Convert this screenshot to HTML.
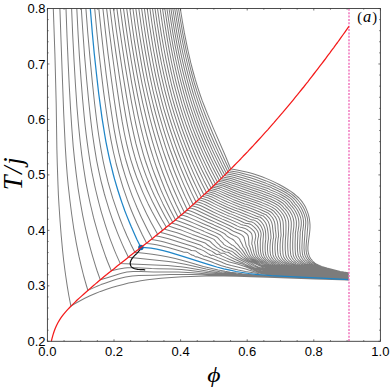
<!DOCTYPE html>
<html><head><meta charset="utf-8"><style>
html,body{margin:0;padding:0;background:#fff;}
#c{position:relative;width:390px;height:387px;overflow:hidden;background:#fff;font-family:"Liberation Sans",sans-serif;color:#000;}
.xl{position:absolute;top:344px;width:40px;text-align:center;font-size:13px;line-height:15px;}
.yl{position:absolute;left:0;width:45.6px;text-align:right;font-size:13px;line-height:16px;}
.ser{font-family:"Liberation Serif",serif;position:absolute;white-space:nowrap;}
</style></head><body><div id="c">
<svg width="390" height="387" viewBox="0 0 390 387" style="position:absolute;left:0;top:0">
<rect width="390" height="387" fill="#fff"/>
<path d="M53.3 8.5L54.9 53.9L55.7 84.2L56.2 104.3L56.9 149.7L57.3 164.8L58.0 185.0L58.4 195.1L59.0 205.2L60.0 220.3L61.2 235.5L62.6 250.6L63.7 260.7L65.0 270.7L65.7 275.8L67.2 285.9L68.9 296.0L70.9 306.2L71.1 306.0L74.7 303.8L79.7 301.0L84.8 298.3L90.0 295.8L95.3 293.5L100.5 291.4L105.9 289.5L111.8 287.5L117.2 286.0L123.2 284.4L128.6 283.1L134.7 281.9L140.8 280.8L147.5 279.8L154.2 279.0L161.0 278.3L167.8 277.7L175.1 277.2L182.5 276.8L190.4 276.4L198.4 276.2L206.3 276.1L214.9 276.0L224.0 276.1L237.1 276.3L251.9 276.7L267.8 277.2L314.9 279.1L332.4 279.6L348.1 279.9L348.8 280.0 M59.9 8.5L60.9 37.1L62.1 70.5L63.7 113.6L64.6 132.6L65.3 146.9L66.2 161.4L67.3 175.7L68.2 185.2L69.8 199.5L71.6 213.8L73.7 228.3L75.4 237.8L76.2 242.6L78.1 252.1L79.1 256.9L81.3 266.4L83.7 276.0L85.0 280.7L86.4 285.5L87.9 290.4L94.5 287.4L97.7 286.0L101.0 284.6L104.3 283.4L109.2 281.7L114.2 280.0L117.4 279.0L122.4 277.7L125.6 277.0L127.3 276.7L132.2 276.0L135.5 275.8L138.8 275.6L153.5 275.2L169.9 274.6L176.5 274.5L183.1 274.4L191.3 274.5L202.8 274.8L238.9 276.2L284.8 277.6L348.8 279.9 M66.0 8.5L67.0 36.0L68.2 63.6L69.3 86.6L70.6 109.6L71.8 128.0L73.2 146.4L74.6 160.1L76.2 173.9L78.0 187.8L80.2 201.5L82.7 215.3L84.6 224.5L85.6 229.1L87.8 238.4L88.9 242.9L91.4 252.1L92.7 256.7L95.5 265.9L97.0 270.5L100.3 279.8L108.1 277.4L117.5 274.4L120.6 273.4L123.7 272.7L126.9 272.1L130.0 271.7L133.1 271.5L137.8 271.4L140.9 271.5L153.4 271.9L173.8 272.0L178.4 272.1L183.1 272.2L192.5 272.8L211.3 274.2L219.1 274.7L226.9 275.2L236.3 275.7L248.8 276.2L286.3 277.4L348.8 279.9 M71.6 8.5L72.7 35.1L74.1 61.7L75.4 84.0L76.9 106.2L78.4 124.0L79.3 132.9L80.2 141.8L81.8 155.2L83.7 168.5L85.8 181.8L88.4 195.1L90.3 204.0L91.4 208.5L93.5 217.4L94.7 221.8L97.2 230.7L98.5 235.1L101.3 244.0L102.8 248.4L105.9 257.3L107.6 261.8L111.3 270.8L118.8 269.1L121.8 268.6L124.7 268.1L127.7 267.8L130.7 267.7L133.7 267.7L136.7 267.7L151.6 268.6L157.6 268.8L172.5 269.1L177.0 269.3L181.5 269.6L186.0 270.0L190.5 270.5L208.4 272.7L215.9 273.5L226.3 274.5L238.3 275.3L251.7 275.9L295.0 277.5L348.8 279.8 M76.8 8.5L78.1 34.3L79.4 56.0L80.9 77.6L82.6 99.2L84.2 116.5L85.1 125.2L86.1 133.9L87.2 142.4L88.4 151.0L90.4 164.0L92.0 172.7L92.9 177.0L94.7 185.7L95.7 190.0L97.8 198.6L98.9 203.0L101.2 211.6L102.5 215.9L105.2 224.6L106.6 228.9L109.6 237.6L111.2 241.9L114.6 250.6L116.4 254.9L120.3 263.6L160.5 265.2L167.7 265.6L174.9 266.2L180.7 266.8L186.4 267.6L192.2 268.5L208.0 271.2L216.6 272.4L222.3 273.2L228.1 273.8L233.8 274.3L239.6 274.8L246.8 275.2L255.4 275.7L299.9 277.5L348.8 279.8 M81.3 8.5L83.0 33.8L84.5 54.9L86.7 80.2L88.7 101.2L90.5 118.1L91.5 126.5L92.6 135.0L94.5 147.6L96.6 160.3L98.3 168.7L99.2 172.9L101.1 181.3L102.2 185.5L104.4 194.0L105.6 198.2L108.2 206.6L109.5 210.8L112.4 219.3L113.9 223.5L117.1 231.9L118.8 236.1L122.4 244.6L124.3 248.8L128.4 257.3L161.7 260.7L168.6 261.5L174.1 262.3L179.7 263.2L185.2 264.3L190.8 265.5L206.0 269.1L214.3 270.7L219.9 271.7L225.4 272.5L231.0 273.3L236.5 273.9L246.2 274.7L257.3 275.4L308.6 277.7L348.8 279.7 M85.9 8.5L87.8 33.2L90.0 58.0L92.4 82.8L94.6 103.5L96.6 120.0L97.7 128.2L98.9 136.5L100.9 148.9L102.4 157.2L103.2 161.3L105.0 169.6L106.0 173.7L108.0 181.9L109.2 186.1L111.6 194.3L112.8 198.4L115.6 206.7L118.5 214.9L120.1 219.2L123.3 227.4L125.1 231.5L126.9 235.7L130.7 243.9L134.8 252.2L144.2 253.3L152.3 254.3L160.4 255.6L168.4 257.1L175.2 258.6L181.9 260.3L187.3 261.8L203.4 266.4L208.8 267.8L212.9 268.8L218.2 270.0L225.0 271.3L230.4 272.2L237.1 273.1L242.5 273.8L247.9 274.3L253.2 274.7L260.0 275.2L273.4 275.9L313.8 277.8L348.8 279.7 M94.7 8.5L96.9 32.2L98.9 52.2L101.2 72.1L103.6 91.9L105.8 107.8L108.2 123.8L109.5 131.6L110.9 139.6L113.3 151.5L115.2 159.5L116.1 163.5L117.2 167.5L119.4 175.3L121.8 183.3L123.0 187.3L124.4 191.3L127.1 199.2L130.1 207.2L131.7 211.2L133.4 215.2L136.8 223.0L140.5 231.0L142.4 235.0L146.5 243.1 M98.8 8.5L100.8 27.9L103.4 51.3L106.2 74.7L109.3 98.1L111.6 113.8L112.8 121.5L114.1 129.3L116.3 141.1L118.0 148.8L118.8 152.7L120.8 160.5L121.8 164.5L124.1 172.2L125.3 176.1L127.9 183.9L129.3 187.9L132.1 195.6L135.3 203.4L136.9 207.3L140.4 215.2L142.2 219.1L146.0 226.8L148.0 230.7L152.2 238.6 M102.9 8.5L105.4 31.4L108.1 54.3L111.1 77.3L114.3 100.2L116.6 115.6L118.5 127.1L120.7 138.5L122.4 146.2L123.3 150.1L125.2 157.7L126.3 161.5L128.6 169.1L129.8 173.0L132.5 180.7L133.9 184.4L136.9 192.1L140.1 199.7L141.8 203.6L145.4 211.3L147.2 215.1L151.2 222.7L153.3 226.6L157.6 234.3 M106.6 8.5L109.3 31.0L112.2 53.5L115.8 79.8L119.7 106.1L122.1 121.2L124.2 132.5L125.8 140.0L126.6 143.7L128.5 151.3L130.5 158.8L131.7 162.6L134.1 170.0L136.8 177.6L138.3 181.3L141.4 188.9L143.0 192.6L146.4 200.1L148.2 203.9L152.0 211.4L156.1 218.9L158.2 222.7L162.6 230.3 M110.0 8.5L112.8 30.7L115.9 52.9L119.2 75.2L123.2 101.1L125.7 115.9L127.8 127.1L130.1 138.2L131.8 145.6L132.8 149.3L134.8 156.7L135.9 160.4L138.3 167.8L141.0 175.2L142.4 178.9L145.5 186.3L147.1 190.0L150.5 197.4L152.3 201.2L156.0 208.5L159.9 215.9L162.0 219.7L166.4 227.2 M113.5 8.5L116.4 30.5L119.6 52.4L122.9 74.4L126.5 96.4L129.1 111.0L130.4 118.3L131.9 125.6L134.3 136.6L136.0 143.9L137.0 147.6L139.0 154.9L140.1 158.6L142.5 165.9L145.1 173.2L146.5 176.9L149.5 184.2L151.0 187.9L154.3 195.2L156.1 198.9L159.7 206.2L163.5 213.5L165.5 217.2L169.7 224.6 M116.9 8.5L119.3 26.6L122.5 48.2L125.3 66.4L128.4 84.5L131.6 102.6L134.4 117.0L135.9 124.3L137.5 131.5L140.1 142.4L142.1 149.6L143.1 153.3L145.3 160.5L146.5 164.0L149.1 171.4L151.8 178.6L153.3 182.2L154.8 185.8L157.9 193.0L159.6 196.6L163.0 203.9L164.8 207.5L168.6 214.7L172.6 222.1 M120.3 8.5L123.2 29.9L125.9 47.8L128.8 65.7L131.8 83.6L135.2 101.6L138.1 115.9L139.7 123.0L141.4 130.2L144.1 141.0L147.1 151.6L149.3 158.8L150.4 162.4L152.9 169.6L155.6 176.7L157.0 180.3L159.9 187.4L161.4 191.0L163.0 194.6L166.3 201.7L169.8 209.0L171.6 212.5L175.4 219.8 M123.5 8.5L125.9 26.1L128.5 43.9L131.4 61.5L134.5 79.3L137.9 96.9L140.9 111.1L142.5 118.2L144.2 125.3L146.9 135.9L149.8 146.5L153.1 157.2L156.7 167.8L160.6 178.3L164.9 189.0L169.5 199.6L174.6 210.3L178.2 217.5 M126.7 8.5L129.1 25.9L131.7 43.4L134.6 60.9L137.1 74.8L139.8 88.9L142.7 102.9L146.0 116.9L147.7 123.9L149.5 130.9L152.4 141.3L155.6 151.8L159.0 162.4L162.8 172.8L166.9 183.3L171.3 193.8L176.0 204.3L179.4 211.3L181.2 214.9 M129.8 8.5L132.2 25.7L134.2 39.6L137.0 56.8L139.5 70.6L142.2 84.4L145.2 98.2L148.4 112.1L150.1 119.0L151.9 125.9L153.8 132.7L155.8 139.7L159.0 150.1L162.5 160.4L166.2 170.8L170.2 181.1L174.6 191.5L179.2 201.9L184.3 212.3 M132.9 8.5L135.2 25.5L137.8 42.6L140.1 56.2L142.5 69.8L145.2 83.5L148.2 97.0L151.5 110.7L154.2 121.0L156.1 127.8L158.0 134.5L161.2 144.8L163.4 151.6L165.8 158.5L169.5 168.7L173.5 178.9L177.7 189.1L182.3 199.3L187.3 209.7 M135.8 8.5L138.1 25.3L140.2 38.8L142.4 52.2L144.8 65.6L147.4 79.2L150.4 92.6L153.6 106.0L156.3 116.1L158.2 122.9L160.1 129.6L163.3 139.7L165.4 146.4L167.7 153.2L171.4 163.3L173.9 170.0L176.6 176.7L180.8 186.8L185.3 196.9L190.2 207.1 M138.8 8.5L141.1 25.0L143.1 38.3L145.3 51.7L147.7 65.0L150.3 78.2L153.2 91.5L154.8 98.1L156.5 104.8L159.2 114.8L161.1 121.4L163.1 128.1L166.2 138.1L168.4 144.6L170.7 151.3L174.4 161.3L176.9 167.9L179.6 174.6L183.8 184.6L188.3 194.5L193.1 204.5 M141.6 8.5L143.9 24.8L145.9 38.0L148.0 51.1L150.4 64.2L153.1 77.3L156.0 90.4L158.5 100.2L160.2 106.8L162.0 113.3L164.9 123.2L166.9 129.8L169.1 136.3L171.3 142.8L173.6 149.5L177.3 159.3L179.8 165.8L182.5 172.3L186.7 182.2L191.2 192.1L196.0 202.0 M144.4 8.5L146.6 24.6L148.6 37.6L150.8 50.5L153.2 63.5L155.8 76.4L158.0 86.2L159.6 92.6L161.2 99.1L163.8 108.8L166.7 118.5L168.7 125.0L170.8 131.5L173.0 138.0L175.2 144.4L178.8 154.2L181.3 160.6L184.0 167.1L188.0 176.8L190.9 183.3L193.9 189.8L198.7 199.6 M147.2 8.5L149.4 24.5L151.4 37.2L153.5 50.0L155.9 62.7L158.5 75.6L160.7 85.2L162.2 91.6L163.9 97.9L166.5 107.6L169.3 117.1L171.3 123.5L173.4 129.9L176.8 139.5L179.1 145.8L181.5 152.3L184.0 158.7L186.6 165.0L190.7 174.7L193.5 181.0L196.5 187.4L201.3 197.2 M149.9 8.5L152.1 24.3L154.1 36.9L156.2 49.4L158.5 62.1L161.1 74.7L163.3 84.2L164.8 90.5L166.5 96.8L169.1 106.3L171.9 115.8L173.9 122.1L176.0 128.4L178.2 134.7L180.5 141.1L184.1 150.5L186.6 156.8L189.2 163.1L193.3 172.6L196.1 178.9L199.1 185.2L203.9 194.8 M152.5 8.5L154.7 24.0L157.2 39.7L159.3 52.1L161.7 64.5L164.4 77.1L166.6 86.4L168.2 92.6L169.8 98.8L172.5 108.2L174.4 114.4L176.4 120.7L179.5 130.0L182.9 139.4L185.3 145.6L187.7 151.8L190.3 158.0L193.0 164.4L197.2 173.7L201.6 183.0L206.4 192.5 M155.0 8.5L157.2 23.8L159.7 39.2L161.8 51.5L164.2 63.9L166.9 76.2L169.1 85.5L170.7 91.6L172.3 97.8L174.9 107.0L176.8 113.1L178.8 119.3L181.9 128.5L184.2 134.7L186.4 140.8L190.1 150.2L192.7 156.3L195.4 162.5L199.6 171.7L204.0 180.9L208.8 190.3 M157.5 8.5L159.7 23.7L161.6 35.8L163.8 48.0L166.1 60.2L168.7 72.3L171.5 84.5L173.1 90.6L174.7 96.7L177.3 105.8L179.2 111.9L181.1 118.0L184.2 127.1L186.4 133.2L188.7 139.3L192.4 148.4L194.9 154.5L197.6 160.6L201.8 169.7L206.3 178.8L211.1 188.1 M160.1 8.5L162.3 23.5L164.2 35.6L166.3 47.5L168.6 59.6L171.1 71.6L173.9 83.6L175.5 89.7L177.1 95.7L179.6 104.7L181.5 110.8L183.4 116.8L186.5 125.8L188.7 131.7L191.0 137.8L194.6 146.8L198.5 155.8L202.7 164.9L205.5 170.9L208.6 176.9L213.3 186.0 M162.5 8.5L164.7 23.4L167.1 38.2L169.2 50.1L171.5 62.0L174.1 73.8L176.2 82.8L177.7 88.7L179.4 94.7L181.9 103.7L183.7 109.6L185.7 115.6L188.7 124.4L190.9 130.4L193.2 136.3L196.8 145.3L200.6 154.2L204.8 163.1L207.6 169.0L210.6 175.0L215.4 184.0 M164.8 8.5L167.0 23.1L169.3 37.9L171.5 49.7L173.8 61.4L176.4 73.2L178.5 82.0L181.6 93.8L184.1 102.6L186.0 108.5L187.9 114.3L190.9 123.2L193.1 129.1L195.4 135.0L199.0 143.8L202.8 152.6L206.9 161.5L211.2 170.2L214.2 176.1L217.4 182.1 M166.9 8.5L169.1 23.0L171.0 34.7L173.1 46.3L175.4 58.0L177.9 69.5L180.7 81.2L183.8 92.8L186.3 101.6L188.1 107.5L190.0 113.2L193.1 122.0L195.2 127.8L197.5 133.6L201.0 142.3L204.8 151.0L208.9 159.8L213.2 168.6L216.2 174.3L219.3 180.3 M169.0 8.5L171.2 22.8L173.1 34.3L175.2 45.9L177.5 57.4L180.0 69.0L182.8 80.5L185.9 92.0L188.4 100.6L190.2 106.3L192.1 112.1L195.1 120.8L197.3 126.5L199.5 132.3L203.1 141.0L206.8 149.6L210.8 158.3L215.1 166.9L218.1 172.7L221.2 178.5 M170.9 8.5L173.1 22.7L175.1 34.1L177.2 45.6L179.5 56.9L182.1 68.3L184.9 79.7L188.0 91.1L190.5 99.7L192.3 105.3L194.2 111.1L197.2 119.7L199.3 125.3L201.5 131.0L205.0 139.5L207.5 145.3L210.1 150.9L214.1 159.5L218.4 168.0L223.0 176.7 M172.8 8.5L175.1 22.6L177.0 33.8L179.2 45.1L181.5 56.4L184.1 67.6L186.9 78.9L190.0 90.3L192.5 98.7L194.3 104.3L196.2 110.0L199.2 118.4L201.3 124.1L203.5 129.8L207.0 138.2L209.5 143.8L212.0 149.5L216.0 157.9L220.2 166.4L224.7 175.0 M174.7 8.5L177.0 22.4L179.0 33.6L181.1 44.8L183.5 56.0L186.1 67.1L188.9 78.3L192.0 89.5L194.5 97.8L197.3 106.2L199.2 111.8L201.3 117.4L203.4 123.0L205.6 128.6L209.0 137.0L212.7 145.4L215.2 150.9L217.9 156.5L222.0 164.9L226.4 173.4 M176.6 8.5L178.9 22.3L180.9 33.3L183.1 44.4L185.4 55.5L188.0 66.5L190.1 74.8L193.2 85.9L195.7 94.3L198.4 102.6L200.3 108.1L202.3 113.7L205.4 121.9L209.9 133.0L213.5 141.3L218.5 152.4L223.8 163.5L227.9 171.8 M178.5 8.5L180.8 22.1L182.7 33.1L184.9 44.1L186.6 52.3L189.2 63.3L191.2 71.5L194.2 82.5L196.7 90.7L199.4 98.9L202.3 107.1L205.4 115.3L209.8 126.3L213.2 134.5L218.0 145.5L224.3 159.3L229.4 170.3 M180.3 8.5L182.5 22.0L184.4 32.9L186.6 43.8L188.3 52.0L190.8 62.9L192.9 71.0L195.2 79.2L197.7 87.3L200.4 95.5L202.3 100.9L204.4 106.3L207.6 114.4L213.3 128.1L225.1 155.3L230.8 169.0 M146.4 243.2L146.7 243.4L149.6 243.7L153.3 244.2L156.3 244.8L160.0 245.5L168.2 247.5L174.2 249.2L182.7 251.7L183.2 252.0L184.1 252.2L186.4 252.3L187.8 252.5L188.0 252.7L189.8 253.9L191.4 254.7L192.3 255.2L193.2 255.3L194.1 255.8L195.4 256.7L196.0 256.9L196.8 256.8L201.3 258.4L211.1 261.7L211.8 262.0L215.5 263.6L220.7 265.5L226.1 267.1L231.7 268.5L238.3 270.0L245.4 271.4L259.2 273.7L263.9 274.2L274.2 275.2L288.7 276.1L323.9 277.8L348.8 279.4 M152.4 238.5L151.6 239.6L154.7 240.1L158.5 240.8L161.0 241.3L164.1 242.1L174.4 245.0L187.9 249.0L190.4 249.9L190.9 250.4L192.0 250.6L194.4 250.8L195.9 251.1L198.3 252.8L200.8 254.4L201.7 254.6L202.6 255.1L203.9 256.1L204.5 256.2L205.4 256.0L206.6 256.5L209.9 257.8L221.4 262.0L223.5 263.0L226.5 264.2L231.3 265.5L242.7 268.3L245.6 269.1L251.8 271.0L254.8 271.8L257.2 272.3L261.2 273.0L269.8 274.1L273.8 274.5L278.9 274.9L293.1 275.9L323.0 277.5L348.8 279.2 M158.0 234.0L156.3 236.0L159.4 236.6L163.5 237.5L168.5 238.8L180.3 242.5L181.8 243.0L191.5 246.1L194.4 247.0L196.7 248.0L197.4 248.6L201.0 249.6L203.5 250.6L205.1 251.6L208.1 253.6L209.6 254.5L210.9 255.3L211.5 255.4L212.4 255.1L212.8 255.2L213.8 255.6L215.4 256.4L218.1 257.6L229.3 262.0L237.2 264.0L241.9 265.4L245.6 266.8L250.1 268.9L251.9 269.7L254.8 270.6L257.6 271.4L261.5 272.2L270.9 273.5L274.8 274.0L279.8 274.5L286.7 275.0L294.7 275.5L322.5 277.1L348.8 279.0 M162.1 230.7L160.6 232.5L163.9 233.3L168.2 234.4L173.4 235.9L183.7 239.5L185.6 240.1L186.3 240.4L188.0 241.0L200.1 245.0L202.1 246.1L202.9 246.9L205.5 248.1L208.0 249.6L209.4 250.1L212.1 251.4L214.1 252.7L214.7 253.3L215.9 254.0L216.6 254.4L217.3 254.4L218.3 254.2L218.8 254.3L219.9 254.7L222.3 256.1L226.1 257.9L229.7 259.5L235.6 262.0L239.0 262.9L242.6 264.1L244.7 265.1L249.2 267.4L251.1 268.3L254.6 269.6L257.6 270.5L261.1 271.3L271.9 273.1L275.9 273.6L280.8 274.1L288.1 274.7L295.9 275.2L322.4 276.8L348.8 278.9 M165.8 227.7L164.8 229.3L168.2 230.2L172.6 231.4L177.1 232.8L180.6 234.1L187.7 236.7L190.6 237.7L191.2 238.0L192.1 238.4L205.1 243.0L206.0 243.6L207.6 245.0L212.6 248.7L214.0 249.2L217.5 250.9L218.8 251.7L219.4 252.4L219.9 252.7L221.3 253.2L222.1 253.3L223.1 253.2L223.9 253.3L225.0 253.9L226.6 254.9L229.2 256.4L233.8 258.8L240.7 262.0L242.7 262.8L244.2 263.6L249.4 266.5L251.3 267.4L253.1 268.2L255.5 269.0L258.0 269.6L261.4 270.4L270.1 272.1L274.4 272.8L279.7 273.4L287.0 274.1L295.7 274.8L323.2 276.6L342.0 278.2L348.8 278.7 M169.1 225.1L168.7 226.1L173.1 227.4L177.6 228.9L181.3 230.1L192.2 234.4L195.2 235.4L195.8 235.8L203.2 238.6L209.5 241.0L210.3 241.6L212.5 243.9L215.6 246.6L217.3 247.9L218.1 248.4L220.6 249.6L222.3 250.3L223.1 251.0L224.5 251.6L225.4 251.9L228.2 252.3L229.4 253.0L231.7 254.7L234.2 256.4L237.7 258.5L244.7 262.0L246.3 262.9L250.6 265.7L252.3 266.7L254.5 267.7L256.4 268.3L258.2 268.8L263.0 269.8L268.2 271.1L270.6 271.6L275.3 272.3L281.5 273.1L288.2 273.8L296.8 274.5L324.5 276.4L335.9 277.4L348.8 278.5 M172.1 222.6L172.4 223.2L176.9 224.5L181.6 226.2L185.3 227.5L195.5 231.7L199.5 233.2L200.0 233.6L207.4 236.5L213.5 239.1L214.3 239.7L216.3 242.0L217.6 243.4L219.9 245.4L220.0 246.0L221.4 247.0L223.1 247.9L225.1 248.7L228.0 250.0L230.7 251.1L231.8 251.3L233.1 252.2L235.3 254.0L237.6 255.9L239.2 257.1L240.9 258.2L242.6 259.2L247.8 262.0L251.2 264.3L253.7 265.9L255.8 266.9L257.5 267.6L259.4 268.1L264.0 269.2L269.1 270.5L271.4 271.1L275.6 271.8L281.7 272.6L287.4 273.2L294.5 273.9L303.9 274.6L321.9 275.9L338.4 277.4L348.8 278.3 M175.0 220.2L175.9 220.3L179.6 221.5L188.1 224.7L199.4 229.4L203.4 231.0L203.9 231.4L211.3 234.5L214.8 236.0L217.2 237.2L217.9 237.8L219.8 240.0L221.1 241.4L223.2 243.3L223.2 243.8L224.4 244.9L226.0 245.9L228.1 246.9L229.2 247.2L232.2 248.8L233.9 249.9L235.0 250.3L236.4 251.3L240.4 255.3L241.8 256.6L243.4 257.9L245.9 259.5L250.3 262.0L252.6 263.7L254.6 265.1L256.6 266.2L258.4 266.9L260.2 267.4L264.8 268.5L269.8 270.0L272.1 270.6L276.3 271.3L282.3 272.2L287.9 272.8L295.0 273.5L305.3 274.3L321.2 275.5L339.0 277.3L348.8 278.1 M177.8 217.9L179.2 217.6L180.2 217.9L184.0 219.2L189.7 221.5L193.6 223.1L203.1 227.3L207.1 228.9L207.6 229.3L215.0 232.4L218.3 234.0L220.7 235.3L222.0 236.5L223.3 238.0L224.6 239.3L225.3 239.8L226.7 240.9L229.4 243.2L231.0 244.4L231.8 245.0L232.7 245.2L234.6 246.6L235.5 247.3L237.0 248.8L237.9 249.3L238.6 249.9L239.3 250.5L243.4 255.5L244.8 256.9L246.3 258.2L248.9 259.9L253.1 262.5L255.3 263.7L259.1 265.6L261.5 266.6L263.6 267.4L268.4 268.8L271.0 269.6L273.7 270.2L278.2 271.1L284.7 272.0L291.6 272.7L299.5 273.5L323.7 275.4L334.4 276.6L344.1 277.6L348.8 277.9 M180.6 215.5L182.3 215.1L185.3 216.0L188.2 217.1L194.0 219.6L205.5 224.7L210.5 226.8L211.0 227.2L215.8 229.3L219.3 230.9L223.3 233.0L224.0 233.4L225.5 234.5L226.2 235.3L226.8 235.9L228.3 237.0L230.6 238.4L232.0 239.0L232.9 239.5L233.7 240.2L234.4 240.8L235.0 241.5L236.0 243.0L236.5 243.2L237.2 244.0L238.0 244.9L238.7 245.7L240.0 247.6L241.4 248.9L242.0 249.6L245.6 255.1L246.8 256.5L248.2 257.9L250.7 259.7L254.1 262.0L257.3 263.6L260.2 265.0L263.6 266.4L266.6 267.6L270.6 268.9L272.4 269.3L274.6 269.9L280.1 270.8L287.0 271.8L293.4 272.5L300.4 273.2L321.6 274.9L338.6 276.8L348.8 277.8 M183.4 213.1L185.3 212.6L189.3 214.0L195.1 216.4L207.7 222.2L213.7 224.8L214.3 225.2L219.0 227.3L222.6 228.9L225.1 230.2L226.7 231.1L229.0 232.6L229.8 233.3L231.4 234.3L235.0 236.1L236.4 236.6L237.4 237.1L238.3 237.8L239.0 238.5L239.6 239.3L240.0 240.1L240.3 241.0L241.0 242.3L242.1 244.3L243.0 246.5L243.4 247.2L244.2 248.0L244.7 248.8L247.2 253.8L248.2 255.4L248.7 256.2L249.4 256.9L250.1 257.6L251.7 259.0L255.9 262.0L257.8 263.7L258.8 264.6L259.5 265.0L260.7 265.6L262.8 266.2L268.7 267.5L273.7 268.9L276.0 269.5L279.7 270.2L286.2 271.2L292.8 272.0L300.4 272.8L310.4 273.7L323.7 274.8L334.1 276.1L343.6 277.1L348.8 277.6 M186.1 210.7L188.0 210.3L191.1 211.3L194.1 212.5L210.7 220.2L216.7 222.9L217.4 223.3L224.9 226.6L229.2 228.8L232.5 230.7L233.4 231.3L239.6 233.8L241.6 234.9L242.5 235.6L243.2 236.3L243.8 237.1L244.2 238.0L244.9 240.8L245.5 242.9L246.2 246.2L246.9 247.1L247.3 248.0L249.4 253.3L250.2 255.0L250.7 255.8L251.3 256.6L252.0 257.4L253.5 258.8L254.3 259.5L257.7 262.0L260.5 264.3L261.7 265.1L262.9 265.6L264.2 266.1L265.5 266.4L270.7 267.6L277.5 269.3L281.8 270.1L287.4 270.9L293.6 271.7L300.2 272.4L323.1 274.5L326.9 274.9L336.9 276.2L348.8 277.4 M188.8 208.4L190.7 208.1L193.8 209.1L196.9 210.3L212.6 217.8L228.9 225.2L232.5 227.0L234.1 227.9L236.0 228.8L237.1 229.3L239.3 229.9L241.6 230.7L243.8 231.6L244.4 232.2L245.4 232.8L246.3 233.5L247.1 234.2L247.7 235.1L248.2 236.1L248.4 237.1L248.7 239.4L248.9 242.9L248.9 244.2L249.0 245.2L249.6 246.2L249.9 247.2L251.6 252.8L252.2 254.6L252.7 255.4L253.2 256.3L253.9 257.1L255.3 258.6L256.1 259.4L259.7 262.1L262.5 264.4L263.3 264.9L264.5 265.5L265.7 265.9L267.0 266.3L272.6 267.5L279.5 269.1L283.2 269.8L288.8 270.6L294.9 271.4L301.5 272.1L310.5 273.0L321.4 273.9L338.4 276.2L343.6 276.7L348.8 277.2 M191.3 206.1L193.1 205.9L196.4 207.0L198.5 207.8L200.5 208.7L214.3 215.5L222.2 219.1L226.2 220.8L231.0 222.9L234.8 224.7L237.5 226.1L239.4 226.9L240.7 227.3L241.9 227.5L244.2 228.2L245.3 228.6L247.4 229.7L248.0 230.3L249.8 231.6L250.6 232.4L251.3 233.3L251.8 234.3L252.1 235.5L252.3 237.0L252.4 238.2L251.8 243.1L251.8 244.2L252.3 245.3L252.5 246.4L253.8 252.2L254.3 254.1L254.7 255.1L255.2 256.0L255.8 256.9L256.4 257.7L258.0 259.2L259.6 260.7L261.4 262.0L263.6 263.9L264.7 264.6L265.8 265.3L267.0 265.7L268.8 266.2L274.3 267.3L280.6 268.8L284.3 269.5L289.9 270.3L295.9 271.1L302.9 271.9L311.8 272.8L322.6 273.7L325.0 274.0L330.1 274.9L333.8 275.4L343.2 276.5L348.8 277.0 M193.8 203.9L195.5 203.9L198.8 205.0L200.9 205.8L203.0 206.7L212.8 211.7L217.9 214.1L224.8 217.2L226.0 217.7L235.0 221.6L237.9 222.9L240.8 224.4L242.9 225.1L245.5 225.6L247.7 226.3L248.7 226.8L249.6 227.4L251.3 228.6L252.9 230.1L253.7 230.9L254.4 231.8L255.0 232.9L255.4 234.1L255.7 235.8L255.7 237.0L255.2 239.4L255.0 240.7L254.7 242.0L254.7 243.3L255.0 244.5L256.0 251.7L256.4 253.7L256.8 254.7L257.2 255.7L257.7 256.6L258.3 257.5L259.8 259.1L261.5 260.6L265.2 263.7L266.4 264.5L267.5 265.1L269.6 265.9L271.8 266.4L276.4 267.3L283.7 268.9L290.6 270.0L296.6 270.8L302.7 271.5L324.2 273.6L326.9 274.0L332.0 274.9L335.3 275.3L340.4 276.0L348.8 276.8 M196.1 201.9L197.7 202.0L198.8 202.3L201.0 203.0L203.2 203.9L205.3 204.8L214.2 209.4L220.3 212.3L227.3 215.4L228.7 215.9L237.9 219.8L241.0 221.2L244.1 222.7L246.3 223.4L247.6 223.5L248.9 223.8L251.0 224.6L251.9 225.2L254.5 227.3L255.9 228.8L256.6 229.7L257.3 230.7L257.9 231.8L258.3 233.0L258.6 234.8L258.6 236.0L258.0 238.4L257.6 241.0L257.5 242.4L257.6 243.6L258.0 249.1L258.2 251.3L258.6 253.3L258.9 254.4L259.2 255.4L259.7 256.3L260.3 257.3L261.7 259.0L262.5 259.8L267.0 263.5L268.1 264.3L269.3 265.0L270.1 265.3L271.4 265.8L273.6 266.3L278.3 267.2L285.6 268.7L291.1 269.6L296.7 270.4L302.7 271.1L321.4 273.0L325.6 273.6L337.6 275.4L343.2 276.1L348.8 276.7 M198.4 199.9L199.8 200.1L202.1 200.8L205.4 202.0L207.5 203.0L213.5 206.1L218.6 208.6L229.7 213.7L231.3 214.1L238.6 217.2L244.1 219.5L247.3 221.0L249.6 221.7L250.9 221.7L252.1 222.1L253.1 222.6L254.1 223.1L255.0 223.8L257.4 226.1L258.7 227.9L259.9 229.8L260.4 231.0L260.8 232.2L261.1 233.8L261.1 235.0L260.4 240.0L260.3 241.5L260.3 247.5L260.4 249.7L260.6 251.9L261.0 254.0L261.3 255.1L261.7 256.1L262.3 257.1L263.7 258.9L264.5 259.7L266.3 261.3L268.9 263.4L270.0 264.2L271.2 264.9L272.0 265.2L273.3 265.7L276.0 266.4L287.1 268.5L292.2 269.4L298.2 270.2L304.7 271.0L312.6 271.8L322.4 272.8L324.7 273.1L329.8 274.0L334.4 274.7L342.7 275.9L348.8 276.5 M200.4 198.0L204.1 199.0L207.5 200.2L209.7 201.2L214.7 203.9L218.8 205.9L226.1 209.3L232.2 212.0L233.8 212.4L238.1 214.1L245.9 217.3L250.5 219.4L252.8 220.0L254.0 220.1L255.2 220.6L256.1 221.1L257.1 221.8L257.9 222.5L258.7 223.3L260.3 225.1L260.9 226.1L261.9 228.1L262.4 229.2L262.8 230.3L263.1 231.5L263.4 233.0L263.5 234.2L262.8 243.4L262.7 246.9L262.7 249.2L262.8 251.4L263.0 252.6L263.5 254.8L263.9 255.8L264.4 256.9L265.0 257.9L265.7 258.8L266.5 259.6L268.3 261.2L270.4 262.9L271.9 264.0L273.1 264.7L273.9 265.1L275.2 265.6L277.9 266.3L288.6 268.3L293.2 269.1L298.8 269.9L305.2 270.7L323.8 272.6L326.1 273.0L331.7 274.1L334.9 274.6L343.7 275.8L348.8 276.3 M202.3 196.3L206.0 197.3L208.4 198.1L209.5 198.5L211.7 199.5L217.8 202.7L222.1 204.8L226.3 206.7L234.7 210.3L236.4 210.7L240.7 212.5L248.8 215.7L253.6 217.8L256.0 218.5L257.0 218.5L258.1 219.1L259.1 219.8L260.0 220.6L260.8 221.4L261.6 222.3L263.0 224.2L263.6 225.3L264.5 227.4L265.2 229.7L265.4 230.9L265.7 233.4L265.8 238.3L265.7 239.9L265.5 241.3L265.2 243.9L265.1 246.3L265.1 248.6L265.2 251.0L265.3 252.2L265.7 254.5L266.0 255.6L266.5 256.7L267.2 257.7L267.9 258.7L268.6 259.6L269.5 260.4L271.4 262.0L273.4 263.5L275.0 264.5L275.8 264.9L277.1 265.4L279.8 266.2L288.7 267.9L293.7 268.8L298.8 269.5L305.3 270.3L321.6 272.1L326.2 272.8L333.5 274.1L337.7 274.8L342.8 275.4L348.8 276.1 M204.1 194.6L207.9 195.6L210.2 196.4L211.4 196.8L213.6 197.9L219.9 201.1L224.2 203.1L228.6 205.1L237.2 208.7L238.9 209.1L245.7 211.7L251.7 214.1L256.6 216.2L259.0 217.0L260.0 217.0L262.0 218.5L262.9 219.4L263.7 220.3L264.5 221.3L265.8 223.3L266.3 224.5L266.7 225.6L267.3 227.9L267.9 231.4L268.2 233.8L268.4 237.5L268.4 239.1L268.1 240.6L267.6 244.5L267.5 246.9L267.5 249.4L267.7 251.8L267.8 253.0L268.0 254.2L268.3 255.4L268.7 256.5L269.4 257.6L270.1 258.5L270.8 259.5L271.7 260.4L273.6 262.0L275.3 263.2L276.9 264.3L277.7 264.7L279.0 265.3L280.4 265.7L282.2 266.2L285.0 266.8L294.3 268.4L299.4 269.2L306.3 270.1L313.3 270.9L322.1 271.8L324.4 272.2L329.9 273.3L334.5 274.0L342.8 275.3L348.8 275.9 M205.8 193.1L208.4 193.7L209.6 194.0L212.0 194.8L213.2 195.2L215.5 196.2L219.8 198.4L224.2 200.5L227.5 202.0L232.0 203.9L239.7 207.0L241.4 207.5L250.8 211.0L255.8 213.0L259.6 214.7L262.0 215.5L262.9 215.7L264.8 217.4L266.5 219.2L267.3 220.3L268.0 221.3L268.6 222.5L269.0 223.7L269.4 224.9L269.9 227.3L270.7 233.2L271.0 236.9L271.0 238.4L270.6 239.9L270.3 242.6L270.1 245.1L270.0 247.7L270.0 250.2L270.1 251.4L270.4 253.9L270.6 255.1L271.1 256.3L271.6 257.4L272.3 258.4L273.1 259.4L274.0 260.3L275.9 262.0L277.6 263.2L278.8 264.0L280.1 264.7L281.0 265.1L282.3 265.5L283.7 266.0L286.9 266.7L293.5 267.9L299.0 268.7L305.0 269.6L324.0 271.8L326.7 272.2L331.7 273.3L335.0 273.9L343.7 275.2L348.8 275.7 M207.4 191.6L208.8 191.8L211.3 192.4L213.8 193.2L215.0 193.6L217.3 194.7L225.1 198.4L232.0 201.4L242.3 205.4L243.9 205.9L245.1 206.3L251.1 208.5L256.1 210.5L258.6 211.5L262.4 213.2L264.8 214.2L265.7 214.4L267.6 216.3L269.3 218.2L270.1 219.3L270.8 220.4L271.3 221.6L271.8 222.8L272.1 224.1L272.4 225.4L273.0 231.3L273.4 233.8L273.6 236.2L273.5 237.8L273.2 239.3L272.8 242.0L272.6 244.6L272.5 247.2L272.6 251.1L272.8 253.6L273.0 254.9L273.4 256.1L274.0 257.3L274.7 258.3L275.4 259.3L276.3 260.3L278.3 262.0L279.8 263.1L281.0 263.9L282.3 264.6L283.1 264.9L284.4 265.4L285.8 265.9L289.0 266.6L293.7 267.5L299.7 268.5L304.8 269.2L321.4 271.1L325.0 271.8L333.7 273.4L337.8 274.1L343.3 274.9L348.8 275.6 M209.0 190.1L210.4 190.3L213.0 190.9L215.5 191.6L216.7 192.1L219.1 193.1L227.1 196.8L233.0 199.4L237.8 201.2L244.8 203.9L246.4 204.3L247.7 204.7L256.3 207.9L261.4 210.0L268.5 213.3L270.4 215.2L271.2 216.2L272.1 217.3L272.9 218.4L273.5 219.5L274.0 220.8L274.5 222.0L274.8 223.3L275.0 224.6L275.4 229.4L275.9 233.2L276.1 235.7L276.1 237.2L275.7 238.7L275.3 241.4L275.1 244.1L275.0 246.8L275.0 249.4L275.2 252.1L275.5 254.7L275.8 255.9L276.4 257.1L277.1 258.2L277.8 259.3L278.7 260.2L280.7 262.0L283.0 263.6L285.1 264.7L287.3 265.6L290.1 266.3L294.3 267.2L299.3 268.0L306.2 269.0L313.6 269.9L322.4 270.9L324.6 271.3L330.0 272.5L334.1 273.3L342.8 274.7L348.8 275.4 M210.5 188.7L211.9 188.8L214.6 189.4L217.1 190.1L218.3 190.6L220.8 191.6L229.1 195.3L235.2 197.8L240.1 199.7L247.4 202.3L248.9 202.8L253.9 204.5L260.3 207.0L264.1 208.6L266.6 209.8L269.1 211.0L271.2 212.2L273.1 214.2L273.9 215.3L274.8 216.4L275.6 217.5L276.2 218.7L276.7 219.9L277.2 221.2L277.5 222.6L277.7 223.9L277.9 225.2L278.0 228.8L278.4 232.7L278.6 235.2L278.5 236.7L278.2 238.1L277.9 240.9L277.6 243.6L277.5 246.3L277.5 249.1L277.7 251.8L278.0 254.4L278.3 255.7L278.8 257.0L279.5 258.1L280.3 259.2L281.1 260.2L282.1 261.1L283.1 262.0L285.4 263.5L287.5 264.7L289.7 265.6L292.5 266.3L296.2 267.1L300.0 267.7L306.4 268.7L323.6 270.8L326.3 271.3L331.8 272.6L335.4 273.3L340.5 274.1L348.8 275.2 M212.0 187.2L213.5 187.3L216.1 187.9L218.7 188.6L220.0 189.1L222.4 190.1L231.0 193.8L237.3 196.3L243.6 198.6L255.3 202.6L260.4 204.5L265.5 206.6L269.3 208.4L271.8 209.8L272.9 210.5L273.8 211.2L275.7 213.3L276.6 214.3L277.4 215.5L278.2 216.6L278.9 217.8L279.9 220.4L280.2 221.8L280.4 223.1L280.5 224.5L280.7 228.2L280.9 232.2L281.1 234.7L281.0 236.1L280.7 237.5L280.3 241.7L280.1 244.5L280.1 247.3L280.1 250.1L280.3 252.9L280.5 254.2L280.8 255.6L281.3 256.8L281.9 258.0L282.7 259.1L283.6 260.2L284.6 261.1L285.6 262.0L287.5 263.3L289.6 264.5L291.8 265.4L294.5 266.2L297.8 266.9L301.5 267.6L307.9 268.5L320.9 270.1L324.1 270.7L333.6 272.7L337.8 273.5L343.3 274.3L348.8 275.0 M213.6 185.8L214.9 185.9L217.6 186.4L220.3 187.2L221.6 187.6L233.0 192.3L239.4 194.7L245.9 197.1L256.5 200.7L261.7 202.6L266.9 204.7L269.4 205.9L271.9 207.1L273.1 207.8L274.3 208.6L275.5 209.4L276.4 210.3L278.3 212.4L279.2 213.5L280.1 214.6L280.8 215.8L281.5 217.0L282.5 219.7L282.9 221.0L283.1 222.4L283.3 225.1L283.5 234.3L283.4 235.6L283.0 238.4L282.8 241.2L282.7 244.1L282.6 246.9L282.8 251.2L283.0 254.0L283.3 255.4L283.7 256.7L284.4 257.9L285.2 259.1L286.1 260.1L287.1 261.1L288.1 262.0L289.7 263.1L291.7 264.3L293.9 265.2L296.5 266.1L299.8 266.8L303.0 267.4L306.2 267.9L313.6 268.9L322.4 270.0L324.6 270.4L330.0 271.8L334.1 272.6L342.8 274.1L346.0 274.5L348.8 274.8 M215.2 184.3L217.8 184.7L219.2 185.0L221.8 185.7L223.1 186.1L234.9 190.7L240.2 192.7L246.9 195.1L255.1 197.8L263.0 200.6L268.2 202.8L272.0 204.6L275.7 206.6L276.8 207.4L277.9 208.3L280.9 211.5L282.6 213.8L283.4 215.0L284.1 216.2L284.6 217.5L285.1 218.9L285.5 220.3L285.8 221.7L285.9 223.1L286.0 225.8L285.9 233.9L285.3 240.8L285.2 245.1L285.2 249.5L285.6 253.8L285.8 255.2L286.2 256.6L286.9 257.8L287.7 259.0L288.6 260.1L289.6 261.1L290.7 262.0L292.1 263.1L294.1 264.3L296.3 265.2L298.9 266.1L302.1 266.8L307.2 267.7L323.8 269.9L326.5 270.5L331.9 271.9L335.5 272.6L340.5 273.5L348.8 274.6 M216.8 182.7L217.9 183.0L219.3 183.3L222.0 183.9L224.7 184.7L242.3 191.2L249.1 193.6L257.6 196.3L258.6 196.8L265.5 199.3L268.2 200.3L270.8 201.5L274.5 203.3L277.0 204.7L278.1 205.4L279.3 206.3L280.4 207.3L281.4 208.6L283.4 210.7L285.1 213.0L285.9 214.2L286.6 215.5L287.7 218.1L288.1 219.5L288.4 220.9L288.6 222.3L288.7 225.2L288.5 229.4L287.9 238.9L287.7 243.3L287.7 246.3L287.8 249.2L288.1 253.6L288.3 255.1L288.7 256.4L289.4 257.7L290.2 258.9L291.1 260.0L292.1 261.1L293.2 262.0L294.3 262.8L296.3 264.1L298.3 265.0L301.0 265.9L304.1 266.7L306.4 267.2L309.2 267.6L318.3 268.8L321.1 269.2L324.7 269.9L333.7 272.0L337.8 272.8L343.3 273.7L348.8 274.5 M218.4 181.2L219.4 181.6L222.2 182.1L224.9 182.8L226.3 183.2L245.7 190.1L252.8 192.5L260.1 194.9L261.0 195.3L268.0 197.9L270.7 199.0L273.3 200.2L277.0 202.1L279.4 203.5L280.5 204.3L281.7 205.3L282.7 206.4L283.8 207.8L284.9 208.8L285.8 209.9L286.7 211.0L287.6 212.2L288.3 213.4L289.0 214.7L289.6 216.0L290.2 217.4L290.6 218.8L290.9 220.2L291.2 221.6L291.3 223.1L291.3 224.6L291.2 227.5L290.6 234.4L290.2 244.4L290.2 247.5L290.3 250.5L290.6 253.4L290.8 254.9L291.2 256.3L291.9 257.6L292.7 258.9L293.6 260.0L294.6 261.0L295.8 262.1L296.8 262.9L298.8 264.1L300.9 265.1L303.5 266.0L306.6 266.7L308.9 267.2L311.6 267.6L320.3 268.7L322.6 269.1L324.8 269.5L330.2 271.0L334.2 271.9L342.9 273.5L346.0 274.0L348.8 274.3 M219.9 179.7L220.8 180.1L223.7 180.6L226.5 181.3L227.9 181.7L233.5 183.6L249.2 189.0L262.5 193.4L263.3 193.9L267.6 195.5L271.8 197.1L275.7 198.9L278.2 200.2L280.6 201.7L282.9 203.2L284.0 204.3L285.1 205.4L286.2 207.0L287.3 208.0L288.2 209.1L289.1 210.2L290.0 211.4L290.7 212.7L292.1 215.3L292.6 216.7L293.1 218.1L293.5 219.5L293.7 220.9L293.9 222.4L293.9 223.9L293.8 227.0L292.9 234.0L293.0 235.2L292.7 242.6L292.7 245.7L292.7 248.7L292.9 251.8L293.2 254.8L293.6 256.2L294.3 257.5L295.1 258.8L296.0 260.0L297.0 261.0L299.0 262.7L300.9 263.9L303.0 264.9L305.5 265.8L308.6 266.7L312.7 267.4L320.9 268.5L324.0 269.1L326.7 269.6L332.0 271.2L335.6 272.0L340.6 272.9L348.8 274.1 M221.5 178.1L222.3 178.7L223.8 178.9L226.7 179.5L228.1 179.8L230.9 180.6L236.7 182.5L254.2 188.5L264.8 192.0L265.6 192.5L269.9 194.1L272.7 195.3L275.5 196.5L278.1 197.7L280.6 199.1L283.0 200.6L285.2 202.2L286.3 203.3L287.4 204.5L288.5 206.2L289.6 207.2L290.6 208.3L291.5 209.5L292.3 210.7L293.1 212.0L294.5 214.6L295.0 216.0L295.5 217.4L295.9 218.8L296.2 220.3L296.4 221.8L296.4 223.3L296.4 225.0L296.3 226.5L295.7 231.1L295.4 232.5L295.3 233.6L295.4 234.9L295.1 242.3L295.1 246.9L295.2 250.0L295.4 253.1L295.6 254.6L296.0 256.1L296.7 257.4L297.5 258.7L298.4 259.9L299.5 261.0L301.2 262.5L303.1 263.8L305.1 264.8L307.6 265.7L310.6 266.6L314.2 267.3L319.6 268.0L322.3 268.5L325.0 269.1L333.9 271.3L339.3 272.5L343.8 273.2L348.8 273.9 M223.1 176.6L223.9 177.2L226.8 177.7L229.7 178.3L232.6 179.1L237.0 180.5L247.5 183.9L267.1 190.5L267.8 191.1L273.6 193.4L276.4 194.6L279.1 195.9L282.9 198.0L285.3 199.6L286.4 200.4L287.5 201.3L288.5 202.4L289.6 203.7L290.8 205.4L291.9 206.4L292.9 207.6L293.8 208.7L294.6 210.0L295.4 211.2L296.8 213.9L297.4 215.3L297.9 216.7L298.3 218.1L298.6 219.6L298.8 221.2L298.9 222.8L298.9 224.5L298.8 226.1L298.1 230.7L297.8 232.1L297.7 233.2L297.8 234.5L297.8 235.8L297.4 245.1L297.5 249.8L297.6 251.4L298.0 254.5L298.4 256.0L299.1 257.3L299.9 258.7L300.8 259.9L301.8 261.0L303.0 262.1L304.0 262.9L305.2 263.6L306.3 264.3L307.9 265.0L309.6 265.6L311.3 266.1L313.5 266.7L315.7 267.2L321.1 267.9L323.4 268.3L325.1 268.7L329.1 269.9L330.8 270.4L333.9 271.1L338.4 272.0L343.8 273.1L348.8 273.7 M224.6 175.1L225.5 175.7L228.5 176.2L231.4 176.8L234.3 177.6L241.9 179.8L253.9 183.7L269.2 189.1L270.0 189.7L275.8 192.1L278.6 193.4L281.3 194.7L285.2 197.0L287.5 198.6L288.7 199.5L289.7 200.4L290.8 201.5L291.8 202.9L293.0 204.6L294.1 205.6L296.0 208.0L296.8 209.2L297.6 210.6L299.0 213.3L300.1 216.1L300.6 217.5L300.9 219.0L301.2 220.6L301.3 222.2L301.3 224.0L301.2 225.6L300.5 230.3L300.2 231.7L300.1 232.9L300.2 234.2L300.1 235.5L299.7 244.9L299.7 248.1L299.8 249.7L299.9 251.2L300.3 254.4L300.7 255.9L301.4 257.3L302.2 258.6L303.1 259.8L304.1 261.0L305.4 262.1L306.5 262.9L307.6 263.7L308.7 264.3L309.9 264.8L311.6 265.5L313.3 266.0L315.5 266.6L317.7 267.1L323.5 268.0L325.3 268.4L327.0 268.9L332.2 270.5L336.2 271.4L341.1 272.3L348.8 273.5 M226.2 173.5L227.1 174.1L230.1 174.6L234.6 175.6L240.7 177.2L246.9 179.1L253.0 181.1L259.0 183.1L271.3 187.6L272.2 188.2L278.0 190.8L280.8 192.2L283.5 193.6L287.3 196.0L289.7 197.7L290.9 198.6L291.9 199.5L293.0 200.7L294.0 202.1L295.2 203.8L296.3 204.9L297.3 206.0L298.2 207.3L299.0 208.5L301.2 212.6L301.8 214.0L302.3 215.5L302.8 216.9L303.1 218.5L303.4 220.0L303.5 221.6L303.6 223.5L303.5 225.1L302.9 229.9L302.6 231.3L302.5 232.5L302.5 233.9L302.5 235.3L302.0 244.7L301.9 247.9L302.0 249.5L302.3 252.7L302.5 254.2L302.9 255.7L303.6 257.2L304.4 258.5L305.3 259.8L306.4 260.9L307.5 262.0L309.2 263.2L310.3 263.9L311.5 264.5L312.7 265.0L314.4 265.6L317.0 266.3L327.1 268.8L333.6 270.5L336.7 271.3L339.8 271.9L342.5 272.4L348.8 273.4 M227.7 172.0L228.8 172.5L231.9 173.0L236.5 174.0L241.1 175.1L245.7 176.4L250.4 177.8L255.0 179.3L261.0 181.4L265.6 183.1L273.3 186.2L274.3 186.8L278.6 188.9L281.5 190.3L284.2 191.8L286.9 193.3L289.4 195.0L291.9 196.8L294.1 198.8L295.2 200.0L296.2 201.3L297.4 202.9L298.5 204.0L300.3 206.5L301.1 207.8L301.9 209.2L303.2 212.0L304.4 214.9L304.8 216.4L305.2 217.9L305.5 219.5L305.7 221.1L305.8 222.9L305.7 224.5L305.2 229.4L305.0 230.9L304.9 232.2L304.9 233.6L304.8 235.0L304.1 244.5L304.0 247.7L304.1 249.3L304.4 252.5L304.7 254.1L305.1 255.6L305.8 257.1L306.6 258.5L307.5 259.7L308.5 260.9L309.7 262.0L311.1 263.1L312.2 263.8L313.4 264.4L315.9 265.3L318.0 266.0L322.8 267.2L329.3 269.2L333.2 270.2L339.0 271.5L342.5 272.2L345.7 272.8L348.8 273.2 M229.3 170.5L230.6 170.9L233.7 171.4L238.4 172.3L243.0 173.4L247.7 174.7L252.4 176.0L257.0 177.5L261.5 179.2L266.1 180.9L270.6 182.8L275.1 184.7L276.3 185.4L282.0 188.3L286.2 190.7L288.9 192.4L291.5 194.1L293.9 196.0L296.2 198.1L297.3 199.3L300.5 203.2L302.3 205.8L303.9 208.5L305.2 211.4L306.3 214.4L307.2 217.4L307.5 219.0L307.7 220.6L307.9 222.4L307.9 224.0L307.7 227.2L307.3 231.8L307.1 234.8L306.2 244.4L306.0 247.6L306.0 249.2L306.2 250.8L306.4 252.4L306.7 254.0L307.2 255.5L307.8 257.0L308.6 258.4L309.5 259.7L310.6 260.9L311.7 262.0L313.0 262.9L314.1 263.6L315.3 264.2L316.5 264.8L318.2 265.4L325.1 267.4L330.7 269.3L333.7 270.1L337.2 270.9L342.5 272.0L345.7 272.6L348.8 273.0 M230.8 169.0L231.2 169.0L234.4 169.5L239.4 170.4L244.0 171.4L248.6 172.5L253.1 173.8L257.6 175.2L262.0 176.8L266.0 178.4L270.7 180.4L275.0 182.4L279.2 184.5L283.3 186.8L287.4 189.2L290.8 191.4L293.7 193.5L296.5 195.8L298.9 198.0L300.8 200.1L302.6 202.4L304.3 205.1L305.7 207.6L307.0 210.6L308.1 213.7L309.0 216.8L309.5 219.7L309.8 222.3L310.0 224.8L310.0 227.8L309.8 230.7L309.5 233.7L308.4 242.0L308.1 244.6L307.9 247.1L307.9 249.2L308.0 250.6L308.2 252.0L308.8 254.4L309.2 255.7L309.6 256.7L310.3 257.9L310.8 258.8L311.7 259.9L312.6 261.0L313.6 262.0L315.0 263.1L316.2 263.9L317.8 264.7L319.5 265.5L321.6 266.4L324.0 267.2L326.9 268.1L336.4 270.5L340.3 271.4L343.8 272.1L348.0 272.8L348.8 272.8" fill="none" stroke="#7c7c7c" stroke-width="1.02" stroke-linejoin="round"/>
<path d="M90.3 8.5L92.3 32.8L94.2 53.0L96.4 73.3L98.7 93.5L100.9 109.7L102.0 117.8L103.3 125.9L104.6 134.0L106.0 142.1L108.5 154.3L110.3 162.4L111.3 166.4L113.3 174.5L114.4 178.6L116.8 186.7L118.0 190.7L120.6 198.8L122.0 202.9L124.9 211.0L126.4 214.9L129.7 223.0L131.4 227.1L135.0 235.2L136.8 239.2L140.9 247.5L141.6 247.4L145.3 247.6L148.2 247.9L151.0 248.2L156.8 249.2L160.0 249.9L163.3 250.6L169.0 252.1L175.5 254.1L182.9 256.4L204.1 263.2L210.6 265.2L216.8 267.0L223.8 268.8L230.0 270.2L236.2 271.5L242.4 272.5L249.1 273.5L255.7 274.3L263.3 275.0L271.3 275.6L284.8 276.3L326.3 278.3L348.8 279.6" fill="none" stroke="#1f85c7" stroke-width="1.25" stroke-linejoin="round"/>
<path d="M140.9 247.5L140.7 248.1L140.5 248.6L140.2 249.2L139.9 249.7L139.6 250.2L139.2 250.7L138.8 251.2L138.4 251.7L138.0 252.2L137.6 252.6L137.1 253.1L136.7 253.6L136.2 254.0L135.7 254.5L135.3 254.9L134.8 255.4L134.3 255.9L133.9 256.4L133.4 256.8L133.0 257.3L132.6 257.8L132.2 258.3L131.8 258.9L131.5 259.4L131.2 260.0L130.9 260.6L130.7 261.2L130.5 261.8L130.3 262.4L130.2 263.0L130.2 263.6L130.3 264.2L130.4 264.8L130.6 265.3L130.8 265.8L131.1 266.3L131.5 266.8L131.9 267.2L132.4 267.6L132.9 267.9L133.5 268.2L134.1 268.5L134.7 268.7L135.3 268.9L136.0 269.0L136.7 269.2L137.4 269.3L138.0 269.4L138.7 269.5L139.4 269.5L140.1 269.6L140.8 269.6L141.5 269.6L142.1 269.7L142.7 269.7L143.3 269.7L143.8 269.7L144.3 269.8L144.8 269.8" fill="none" stroke="#111" stroke-width="1.2" stroke-linecap="round"/>
<circle cx="140.9" cy="247.5" r="2.7" fill="#1766a8"/>
<line x1="349.0" y1="8.8" x2="349.0" y2="341.3" stroke="#f06cb8" stroke-width="1.4" stroke-dasharray="2 1.37"/>
<path d="M51.3 341.3 L52.1 338.1 L53.0 334.9 L54.0 331.8 L55.1 328.7 L56.4 325.7 L57.9 322.7 L59.6 319.9 L61.4 317.2 L63.3 314.6 L65.4 312.1 L67.6 309.6 L69.9 307.2 L72.2 304.9 L74.6 302.6 L76.9 300.3 L79.3 298.1 L81.8 295.9 L84.2 293.7 L86.7 291.5 L89.1 289.4 L91.6 287.2 L94.1 285.1 L96.6 282.9 L99.1 280.8 L101.6 278.7 L104.2 276.6 L106.7 274.6 L109.2 272.5 L111.8 270.4 L114.4 268.4 L116.9 266.3 L119.5 264.3 L122.1 262.2 L124.7 260.2 L127.2 258.2 L129.8 256.1 L132.4 254.1 L135.0 252.1 L137.6 250.1 L140.2 248.0 L142.8 246.0 L145.4 244.0 L148.0 242.0 L150.5 239.9 L153.1 237.9 L155.7 235.8 L158.3 233.8 L160.8 231.7 L163.4 229.7 L165.9 227.6 L168.5 225.5 L171.0 223.5 L173.6 221.4 L176.1 219.3 L178.6 217.1 L181.1 215.0 L183.6 212.9 L186.1 210.7 L188.6 208.6 L191.0 206.4 L193.5 204.2 L195.9 202.0 L198.4 199.8 L200.8 197.6 L203.2 195.4 L205.6 193.2 L208.1 191.0 L210.5 188.7 L212.8 186.5 L215.2 184.2 L217.6 181.9 L220.0 179.6 L222.3 177.4 L224.7 175.1 L227.0 172.7 L229.3 170.4 L231.7 168.1 L234.0 165.8 L236.3 163.4 L238.6 161.1 L240.9 158.7 L243.1 156.3 L245.4 154.0 L247.7 151.6 L249.9 149.2 L252.2 146.8 L254.4 144.4 L256.6 142.0 L258.9 139.5 L261.1 137.1 L263.3 134.7 L265.5 132.2 L267.7 129.8 L269.8 127.3 L272.0 124.8 L274.2 122.4 L276.3 119.9 L278.5 117.4 L280.6 114.9 L282.8 112.4 L284.9 109.9 L287.0 107.4 L289.1 104.8 L291.2 102.3 L293.3 99.8 L295.4 97.2 L297.5 94.7 L299.5 92.1 L301.6 89.5 L303.7 87.0 L305.7 84.4 L307.8 81.8 L309.8 79.2 L311.8 76.6 L313.8 74.0 L315.8 71.4 L317.8 68.8 L319.8 66.2 L321.8 63.6 L323.8 61.0 L325.8 58.3 L327.7 55.7 L329.7 53.1 L331.6 50.4 L333.6 47.8 L335.5 45.1 L337.5 42.5 L339.4 39.8 L341.3 37.1 L343.2 34.5 L345.1 31.8 L347.0 29.1 L348.9 26.4" fill="none" stroke="#f41a1a" stroke-width="1.25" stroke-linejoin="round"/>
<rect x="47.4" y="8.5" width="333.0" height="332.8" fill="none" stroke="#3a3a3a" stroke-width="0.9"/>
<path d="M47.40 341.30 v-2.0 M47.40 8.50 v2.0 M64.05 341.30 v-1.2 M64.05 8.50 v1.2 M80.70 341.30 v-1.2 M80.70 8.50 v1.2 M97.35 341.30 v-1.2 M97.35 8.50 v1.2 M114.00 341.30 v-2.0 M114.00 8.50 v2.0 M130.65 341.30 v-1.2 M130.65 8.50 v1.2 M147.30 341.30 v-1.2 M147.30 8.50 v1.2 M163.95 341.30 v-1.2 M163.95 8.50 v1.2 M180.60 341.30 v-2.0 M180.60 8.50 v2.0 M197.25 341.30 v-1.2 M197.25 8.50 v1.2 M213.90 341.30 v-1.2 M213.90 8.50 v1.2 M230.55 341.30 v-1.2 M230.55 8.50 v1.2 M247.20 341.30 v-2.0 M247.20 8.50 v2.0 M263.85 341.30 v-1.2 M263.85 8.50 v1.2 M280.50 341.30 v-1.2 M280.50 8.50 v1.2 M297.15 341.30 v-1.2 M297.15 8.50 v1.2 M313.80 341.30 v-2.0 M313.80 8.50 v2.0 M330.45 341.30 v-1.2 M330.45 8.50 v1.2 M347.10 341.30 v-1.2 M347.10 8.50 v1.2 M363.75 341.30 v-1.2 M363.75 8.50 v1.2 M380.40 341.30 v-2.0 M380.40 8.50 v2.0 M47.40 341.30 h2.0 M380.40 341.30 h-2.0 M47.40 330.21 h1.2 M380.40 330.21 h-1.2 M47.40 319.11 h1.2 M380.40 319.11 h-1.2 M47.40 308.02 h1.2 M380.40 308.02 h-1.2 M47.40 296.93 h1.2 M380.40 296.93 h-1.2 M47.40 285.83 h2.0 M380.40 285.83 h-2.0 M47.40 274.74 h1.2 M380.40 274.74 h-1.2 M47.40 263.65 h1.2 M380.40 263.65 h-1.2 M47.40 252.55 h1.2 M380.40 252.55 h-1.2 M47.40 241.46 h1.2 M380.40 241.46 h-1.2 M47.40 230.37 h2.0 M380.40 230.37 h-2.0 M47.40 219.27 h1.2 M380.40 219.27 h-1.2 M47.40 208.18 h1.2 M380.40 208.18 h-1.2 M47.40 197.09 h1.2 M380.40 197.09 h-1.2 M47.40 185.99 h1.2 M380.40 185.99 h-1.2 M47.40 174.90 h2.0 M380.40 174.90 h-2.0 M47.40 163.81 h1.2 M380.40 163.81 h-1.2 M47.40 152.71 h1.2 M380.40 152.71 h-1.2 M47.40 141.62 h1.2 M380.40 141.62 h-1.2 M47.40 130.53 h1.2 M380.40 130.53 h-1.2 M47.40 119.43 h2.0 M380.40 119.43 h-2.0 M47.40 108.34 h1.2 M380.40 108.34 h-1.2 M47.40 97.25 h1.2 M380.40 97.25 h-1.2 M47.40 86.15 h1.2 M380.40 86.15 h-1.2 M47.40 75.06 h1.2 M380.40 75.06 h-1.2 M47.40 63.97 h2.0 M380.40 63.97 h-2.0 M47.40 52.87 h1.2 M380.40 52.87 h-1.2 M47.40 41.78 h1.2 M380.40 41.78 h-1.2 M47.40 30.69 h1.2 M380.40 30.69 h-1.2 M47.40 19.59 h1.2 M380.40 19.59 h-1.2 M47.40 8.50 h2.0 M380.40 8.50 h-2.0" stroke="#3a3a3a" stroke-width="0.7" fill="none"/>
</svg>
<div class="xl" style="left:27.4px">0.0</div>
<div class="xl" style="left:94.0px">0.2</div>
<div class="xl" style="left:160.6px">0.4</div>
<div class="xl" style="left:227.2px">0.6</div>
<div class="xl" style="left:293.8px">0.8</div>
<div class="xl" style="left:360.4px">1.0</div>
<div class="yl" style="top:333.8px">0.2</div>
<div class="yl" style="top:278.3px">0.3</div>
<div class="yl" style="top:222.9px">0.4</div>
<div class="yl" style="top:167.4px">0.5</div>
<div class="yl" style="top:111.9px">0.6</div>
<div class="yl" style="top:56.5px">0.7</div>
<div class="yl" style="top:1.0px">0.8</div>
<div class="ser" id="ylab" style="left:-20.5px;top:158.3px;width:66px;height:30px;line-height:30px;text-align:center;font-size:26.5px;letter-spacing:1.7px;font-style:italic;transform:rotate(-90deg);">T/j</div>
<div class="ser" id="xlab" style="left:198.7px;top:360.5px;width:30px;text-align:center;font-size:20px;line-height:28px;font-style:italic;transform:scaleX(1.28);">&#981;</div>
<div class="ser" id="alab" style="left:357.3px;top:8px;font-size:14.5px;line-height:18px;letter-spacing:0.9px;">(<i style="font-size:16.5px">a</i>)</div>
</div></body></html>
